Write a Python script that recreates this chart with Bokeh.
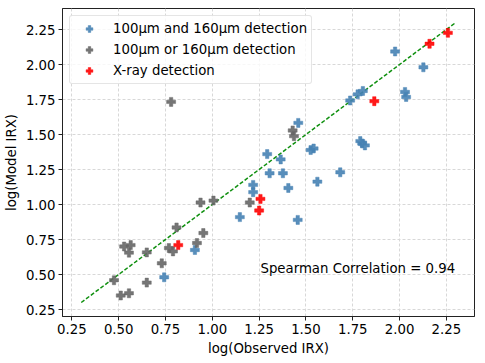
from bokeh.plotting import figure
from bokeh.models import Range1d, FixedTicker, Legend, LegendItem, Label
from bokeh.embed import file_html
from bokeh.resources import INLINE

# 100um and 160um detection
both_x = [1.218, 1.218, 1.147, 0.907, 0.743, 1.459, 1.293, 1.365, 1.525, 1.541, 1.306, 1.377, 1.561,
          1.683, 1.406, 1.456, 1.976, 2.127, 1.804, 1.776, 1.736, 2.029, 2.035, 1.790, 1.800, 1.815]
both_y = [1.140, 1.088, 0.910, 0.675, 0.480, 1.583, 1.360, 1.322, 1.389, 1.400, 1.223, 1.223, 1.163,
          1.230, 1.118, 0.890, 2.093, 1.980, 1.811, 1.787, 1.743, 1.804, 1.768, 1.453, 1.436, 1.422]
# 100um or 160um detection
either_x = [0.780, 1.200, 0.937, 1.006, 0.809, 0.952, 0.918, 0.768, 0.790, 0.529, 0.564, 0.555, 0.650,
            0.730, 0.475, 0.650, 0.511, 0.555, 1.429, 1.436]
either_y = [1.733, 1.014, 1.014, 1.028, 0.836, 0.796, 0.725, 0.689, 0.665, 0.700, 0.710, 0.656, 0.658,
            0.580, 0.459, 0.442, 0.350, 0.366, 1.529, 1.488]
# X-ray detection
xray_x = [1.257, 1.250, 0.818, 2.258, 2.160, 1.865]
xray_y = [1.040, 0.957, 0.710, 2.226, 2.148, 1.738]

one_to_one = [0.3, 2.3]
ticks = [0.25, 0.50, 0.75, 1.00, 1.25, 1.50, 1.75, 2.00, 2.25]
tick_labels = ["0.25", "0.50", "0.75", "1.00", "1.25", "1.50", "1.75", "2.00", "2.25"]
corr_text = "Spearman Correlation = 0.94"
corr_pos = (1.257, 0.542)

FONT = "DejaVu Sans"
FS = "13.3px"

p = figure(width=478, height=360, output_backend="svg", toolbar_location=None,
           x_range=Range1d(0.2, 2.4), y_range=Range1d(0.2, 2.4),
           min_border_left=62, min_border_right=4, min_border_top=8, min_border_bottom=44)

p.outline_line_color = "#222222"
p.outline_line_width = 1
p.background_fill_color = "white"

for ax in (p.xaxis[0], p.yaxis[0]):
    ax.ticker = FixedTicker(ticks=ticks)
    ax.major_label_overrides = dict(zip(ticks, tick_labels))
    ax.major_label_text_font = FONT
    ax.major_label_text_font_size = FS
    ax.major_label_text_color = "black"
    ax.axis_label_text_font = FONT
    ax.axis_label_text_font_size = FS
    ax.axis_label_text_font_style = "normal"
    ax.axis_label_text_color = "black"
    ax.major_tick_out = 4
    ax.major_tick_in = 0
    ax.minor_tick_out = 0
    ax.minor_tick_in = 0
    ax.axis_line_color = "#222222"
    ax.major_tick_line_color = "#222222"
    ax.major_label_standoff = 3
    ax.axis_label_standoff = 4

p.xaxis.axis_label = "log(Observed IRX)"
p.yaxis.axis_label = "log(Model IRX)"

p.xgrid.ticker = FixedTicker(ticks=ticks)
p.ygrid.ticker = FixedTicker(ticks=ticks)
p.grid.grid_line_color = "#d8d8d8"
p.grid.grid_line_dash = "3 2"
p.grid.grid_line_width = 1

p.line(one_to_one, one_to_one, line_color="#109010", line_width=1.5, line_dash="4 2")

r_both = p.scatter(both_x, both_y, marker="plus", size=9, fill_color="#4682b4",
                   line_color="#4682b4", line_width=0.5, fill_alpha=0.9, line_alpha=0.9)
r_either = p.scatter(either_x, either_y, marker="plus", size=9, fill_color="#666666",
                     line_color="#666666", line_width=0.5, fill_alpha=0.9, line_alpha=0.9)
r_xray = p.scatter(xray_x, xray_y, marker="plus", size=9, fill_color="#ff0000",
                   line_color="#ff0000", line_width=0.5, fill_alpha=0.9, line_alpha=0.9)

legend = Legend(items=[
    LegendItem(label="100μm and 160μm detection", renderers=[r_both]),
    LegendItem(label="100μm or 160μm detection", renderers=[r_either]),
    LegendItem(label="X-ray detection", renderers=[r_xray]),
], location="top_left")
legend.margin = 7
legend.padding = 4
legend.spacing = 4
legend.label_height = 17
legend.glyph_height = 17
legend.glyph_width = 30
legend.label_standoff = 9
legend.label_text_font = FONT
legend.label_text_font_size = FS
legend.label_text_color = "black"
legend.border_line_color = "#cccccc"
legend.border_line_width = 1
legend.background_fill_color = "white"
legend.background_fill_alpha = 0.8
try:
    legend.border_radius = 3
except AttributeError:
    pass
p.add_layout(legend)

lab = Label(x=corr_pos[0], y=corr_pos[1], text=corr_text, text_font=FONT, text_font_size=FS,
            text_baseline="middle", text_align="left", text_color="black")
p.add_layout(lab)

open("out.html", "w").write(file_html(p, INLINE))
